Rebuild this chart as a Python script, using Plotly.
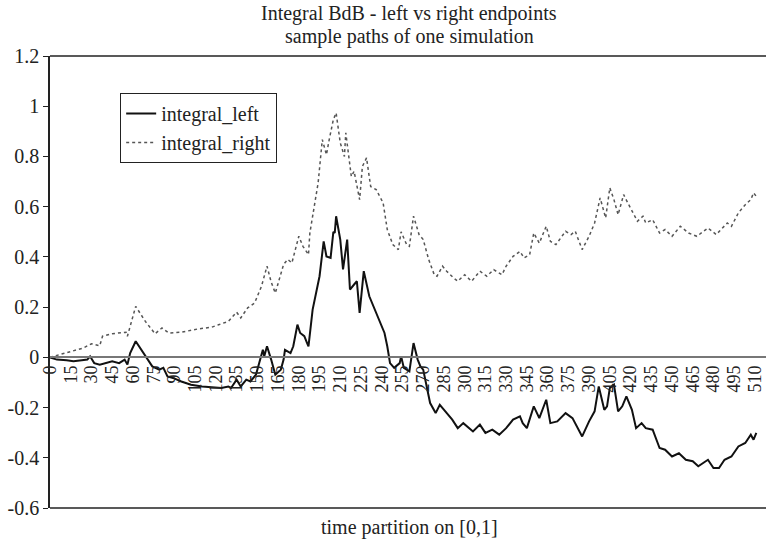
import plotly.graph_objects as go

# values (time step, value)
t_left = [0, 5, 12, 17, 23, 27, 29, 32, 36, 40, 45, 50, 54, 56, 58, 62, 66, 69, 74, 79, 82, 85,
          89, 95, 102, 110, 117, 124, 129, 131, 135, 138, 142, 145, 149, 151, 154, 155, 157, 160,
          163, 167, 169, 170, 174, 176, 179, 181, 184, 186, 187, 190, 193, 195, 198, 200, 203,
          205, 206, 207, 210, 212, 215, 217, 220, 222, 224, 227, 231, 235, 237, 239, 242, 244,
          246, 249, 253, 254, 256, 260, 263, 266, 268, 270, 273, 275, 279, 282, 286, 291, 295,
          299, 306, 311, 315, 320, 325, 330, 335, 340, 342, 345, 350, 354, 359, 362, 367, 373,
          378, 380, 385, 390, 394, 397, 401, 403, 405, 408, 411, 414, 417, 421, 424, 428, 431,
          436, 441, 445, 450, 455, 460, 465, 469, 476, 480, 484, 488, 493, 498, 503, 507, 509, 511]
integral_left = [0, -0.009, -0.012, -0.016, -0.012, -0.009, 0.004, -0.023, -0.029, -0.023, -0.016,
                 -0.023, -0.009, -0.029, 0.017, 0.064, 0.03, 0.004, -0.036, -0.049, -0.042, -0.076,
                 -0.082, -0.096, -0.109, -0.116, -0.118, -0.122, -0.116, -0.122, -0.089, -0.116,
                 -0.089, -0.096, -0.069, -0.029, 0.03, 0.004, 0.044, -0.009, -0.069, -0.049, -0.009,
                 0.03, 0.017, 0.044, 0.13, 0.097, 0.084, 0.057, 0.044, 0.19, 0.27, 0.323, 0.462,
                 0.402, 0.396, 0.5, 0.495, 0.562, 0.469, 0.35, 0.469, 0.27, 0.29, 0.303, 0.177,
                 0.343, 0.243, 0.19, 0.17, 0.143, 0.097, 0.044, -0.023, -0.042, -0.023, 0.004,
                 -0.042, -0.056, 0.057, -0.009, -0.036, -0.049, -0.129, -0.182, -0.222, -0.189,
                 -0.215, -0.248, -0.282, -0.262, -0.295, -0.268, -0.301, -0.288, -0.308, -0.282,
                 -0.248, -0.235, -0.262, -0.282, -0.195, -0.242, -0.169, -0.262, -0.255, -0.222,
                 -0.242, -0.262, -0.315, -0.255, -0.215, -0.116, -0.209, -0.195, -0.122, -0.109,
                 -0.215, -0.195, -0.155, -0.209, -0.282, -0.262, -0.282, -0.288, -0.361, -0.368,
                 -0.395, -0.382, -0.408, -0.414, -0.434, -0.408, -0.441, -0.441, -0.408, -0.395,
                 -0.355, -0.341, -0.308, -0.328, -0.301]

t_right = [0, 12, 24, 30, 36, 38, 45, 55, 56, 62, 69, 76, 81, 86, 95, 107, 117, 122, 129, 135,
           138, 143, 148, 153, 157, 160, 163, 169, 172, 175, 180, 183, 187, 188, 192, 194, 197,
           200, 202, 205, 207, 210, 213, 214, 218, 220, 224, 226, 229, 232, 236, 241, 244, 248,
           252, 254, 258, 260, 263, 267, 270, 274, 278, 280, 284, 287, 292, 295, 300, 305, 311,
           316, 321, 327, 330, 335, 340, 343, 347, 350, 354, 359, 362, 366, 373, 377, 380, 385,
           390, 394, 398, 402, 405, 408, 411, 415, 418, 422, 425, 429, 431, 436, 441, 445, 450,
           456, 462, 468, 476, 482, 490, 493, 498, 503, 507, 509, 511]
integral_right = [0, 0.017, 0.037, 0.054, 0.046, 0.084, 0.094, 0.1, 0.084, 0.203, 0.143, 0.094,
                  0.117, 0.097, 0.1, 0.113, 0.12, 0.13, 0.143, 0.18, 0.157, 0.197, 0.216, 0.283,
                  0.363, 0.3, 0.256, 0.37, 0.39, 0.376, 0.482, 0.442, 0.409, 0.495, 0.628, 0.695,
                  0.867, 0.807, 0.867, 0.947, 0.973, 0.854, 0.8, 0.894, 0.72, 0.741, 0.628, 0.76,
                  0.794, 0.68, 0.668, 0.615, 0.509, 0.449, 0.429, 0.5, 0.449, 0.442, 0.562, 0.489,
                  0.469, 0.389, 0.329, 0.323, 0.363, 0.343, 0.316, 0.303, 0.329, 0.303, 0.343,
                  0.323, 0.349, 0.329, 0.363, 0.402, 0.422, 0.396, 0.409, 0.495, 0.455, 0.522,
                  0.462, 0.449, 0.502, 0.489, 0.502, 0.429, 0.482, 0.535, 0.635, 0.555, 0.675,
                  0.628, 0.568, 0.648, 0.615, 0.575, 0.542, 0.562, 0.535, 0.548, 0.495, 0.509,
                  0.482, 0.522, 0.495, 0.482, 0.515, 0.489, 0.535, 0.522, 0.575, 0.608, 0.628,
                  0.655, 0.641]

x_ticks = list(range(0, 511, 15))
y_ticks = [-0.6, -0.4, -0.2, 0, 0.2, 0.4, 0.6, 0.8, 1, 1.2]
y_tick_labels = ["-0.6", "-0.4", "-0.2", "0", "0.2", "0.4", "0.6", "0.8", "1", "1.2"]

FONT = "Liberation Serif"
INK = "#222222"

fig = go.Figure()
fig.add_trace(go.Scatter(x=t_left, y=integral_left, mode="lines", name="integral_left",
                         line=dict(color="#111111", width=2)))
fig.add_trace(go.Scatter(x=t_right, y=integral_right, mode="lines", name="integral_right",
                         line=dict(color="#555555", width=1.5, dash="dot")))

fig.update_layout(
    width=766, height=542,
    margin=dict(l=50, r=0, t=56, b=34, autoexpand=False),
    paper_bgcolor="white", plot_bgcolor="white",
    font=dict(family=FONT, size=20, color=INK),
    showlegend=True,
    legend=dict(x=0.098, y=0.918, xanchor="left", yanchor="top",
                bordercolor=INK, borderwidth=1, bgcolor="white",
                font=dict(family=FONT, size=20, color=INK), tracegroupgap=0,
                itemwidth=30),
    xaxis=dict(range=[0, 518], tickmode="array", tickvals=x_ticks, tickangle=-90,
               anchor="free", position=1 / 3, showgrid=False, zeroline=False,
               showline=True, linecolor="#777777", linewidth=2, ticks="",
               automargin=False, ticklabeloverflow="allow",
               tickfont=dict(family=FONT, size=18, color=INK)),
    yaxis=dict(range=[-0.6, 1.2], tickmode="array", tickvals=y_ticks, ticktext=y_tick_labels,
               showgrid=False, zeroline=False, showline=True, linecolor=INK,
               linewidth=1.5, ticks="outside", ticklen=5, tickcolor=INK,
               automargin=False, tickfont=dict(family=FONT, size=20, color=INK)),
    shapes=[
        dict(type="line", xref="paper", yref="paper", x0=0, x1=1, y0=1, y1=1,
             line=dict(color=INK, width=1.5)),
        dict(type="line", xref="paper", yref="paper", x0=0, x1=1, y0=0, y1=0,
             line=dict(color=INK, width=1.5)),
    ],
    annotations=[
        dict(text="Integral BdB - left vs right endpoints", xref="paper", yref="paper",
             x=0.502, y=1.093, xanchor="center", yanchor="middle", showarrow=False,
             font=dict(family=FONT, size=20, color=INK)),
        dict(text="sample paths of one simulation", xref="paper", yref="paper",
             x=0.502, y=1.044, xanchor="center", yanchor="middle", showarrow=False,
             font=dict(family=FONT, size=20, color=INK)),
        dict(text="time partition on [0,1]", xref="paper", yref="paper", x=0.502, y=-0.044,
             xanchor="center", yanchor="middle", showarrow=False,
             font=dict(family=FONT, size=20, color=INK)),
    ],
)

# drop the page's default 8px body margin so the chart sits at the window corner
fig.write_html("out.html", config={"displayModeBar": False},
               post_script="document.body.style.margin='0';")
